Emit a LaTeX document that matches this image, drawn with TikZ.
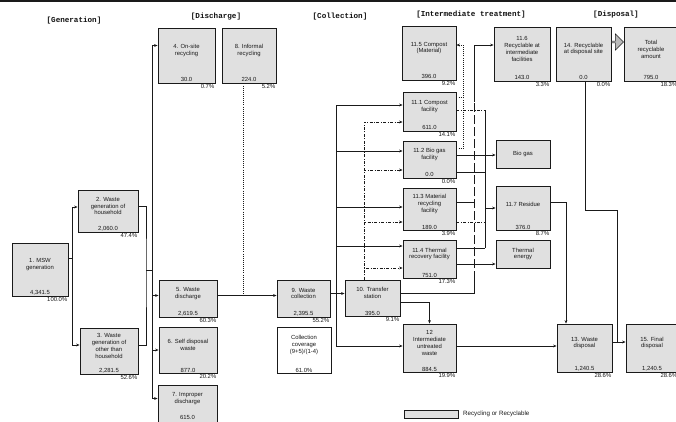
\documentclass[tikz,border=0pt]{standalone}
\usepackage{fontspec}
\setmainfont{Liberation Sans}
\newfontfamily\hdrfont{Liberation Mono}
\usetikzlibrary{arrows.meta,shapes.arrows}
\definecolor{ink}{HTML}{1A1A1A}
\definecolor{boxfill}{HTML}{E0E0E0}
\definecolor{hdrc}{HTML}{101010}

\begin{document}
\begin{tikzpicture}[x=1pt,y=-1pt,font=\fontsize{5.9}{6.9}\selectfont,
  >={Stealth[length=3.4pt,width=2.8pt]},
  blk/.style={draw=ink,line width=0.9pt,fill=boxfill},
  txt/.style={inner sep=1pt,align=center,text=ink},
  hdr/.style={font=\hdrfont\bfseries\fontsize{7.6}{8}\selectfont,text=hdrc},
  flow/.style={draw=ink,line width=0.75pt},
  flowdd/.style={flow,dash pattern=on 3pt off 1.5pt on 0.8pt off 1.5pt},
  flowld/.style={flow,dash pattern=on 9pt off 3pt},
  flowdt/.style={flow,dash pattern=on 0.9pt off 1.2pt}]
  \useasboundingbox (0,0) rectangle (676,421);
  \draw[ink,line width=2pt] (0,1) -- (676,1);
  % stage headers
  \node[hdr] (hgen) at (74,21) {[Generation]};
  \node[hdr] (hdis) at (216,17) {[Discharge]};
  \node[hdr] (hcol) at (340,17) {[Collection]};
  \node[hdr] (hint) at (471,15) {[Intermediate treatment]};
  \node[hdr] (hdsp) at (616,15) {[Disposal]};
  % boxes: name/x/y/w/h/title/amount/share
  \foreach \nm/\bx/\by/\bw/\bh/\btit/\bval/\bpct in {
    n1/40/269.5/56/53/{1. MSW\\generation}/{4,341.5}/{100.0\%},
    n2/108/211/60/42/{2. Waste\\generation of\\household}/{2,060.0}/{47.4\%},
    n3/109/351/58/46/{3. Waste\\generation of\\other than\\household}/{2,281.5}/{52.6\%},
    n4/186.5/55.5/57/55/{4. On-site\\recycling}/{30.0}/{0.7\%},
    n8/249/55.5/54/55/{8. Informal\\recycling}/{224.0}/{5.2\%},
    n5/188/298.5/58/37/{5. Waste\\discharge}/{2,619.5}/{60.3\%},
    n6/188/350/58/46/{6. Self disposal\\waste}/{877.0}/{20.2\%},
    n9/303.5/298.5/53/37/{9. Waste\\collection}/{2,395.5}/{55.2\%},
    n10/372.5/298/55/36/{10. Transfer\\station}/{395.0}/{9.1\%},
    n115/429/53/54/54/{11.5 Compost\\(Material)}/{396.0}/{9.2\%},
    n111/429.5/111.5/53/39/{11.1 Compost\\facility}/{611.0}/{14.1\%},
    n112/429.5/159.5/53/37/{11.2 Bio gas\\facility}/{0.0}/{0.0\%},
    n113/429.5/209/53/42/{11.3 Material\\recycling\\facility}/{189.0}/{3.9\%},
    n114/429.5/259/53/38/{11.4 Thermal\\recovery facility}/{751.0}/{17.3\%},
    n116/522/54/56/54/{11.6\\Recyclable at\\intermediate\\facilities}/{143.0}/{3.3\%},
    n12/429.5/348/53/48/{12\\Intermediate\\untreated\\waste}/{884.5}/{19.9\%},
    n14/583.5/54/55/54/{14. Recyclable\\at disposal site}/{0.0}/{0.0\%},
    ntot/651/54/54/54/{Total\\recyclable\\amount}/{795.0}/{18.3\%},
    n13/584.5/348/55/48/{13. Waste\\disposal}/{1,240.5}/{28.6\%},
    n15/652/348/52/48/{15. Final\\disposal}/{1,240.5}/{28.6\%}}{
    \node[blk,minimum width=\bw pt,minimum height=\bh pt] (\nm) at (\bx,\by) {};
    \node[txt] (\nm-t) at (\bx,\by-5) {\btit};
    \node[txt,anchor=south,inner sep=1.2pt] (\nm-v) at (\nm.south) {\bval};
    \node[txt,anchor=north east] (\nm-p) at (\nm.south east) {\bpct};
  }
  \node[blk,minimum width=59pt,minimum height=45pt] (n7) at (187.5,407.5) {};
  \node[txt] (n7-t) at (187.5,398.5) {7. Improper\\discharge};
  \node[txt] (n7-v) at (187.5,417) {615.0};
  \node[draw=ink,line width=0.9pt,fill=white,minimum width=54pt,minimum height=46pt] (ncov) at (304,350) {};
  \node[txt] (ncov-t) at (304,345) {Collection\\coverage\\(9+5)/(1-4)};
  \node[txt,anchor=south,inner sep=1.2pt] (ncov-v) at (ncov.south) {61.0\%};
  \node[blk,minimum width=54pt,minimum height=28pt] (nbio) at (523,154) {};
  \node[txt] (nbio-t) at (nbio) {Bio gas};
  \node[blk,minimum width=54pt,minimum height=44pt] (n117) at (523,208) {};
  \node[txt] (n117-t) at (523,204) {11.7 Residue};
  \node[txt,anchor=south,inner sep=1.2pt] (n117-v) at (n117.south) {376.0};
  \node[txt,anchor=north east] (n117-p) at (n117.south east) {8.7\%};
  \node[blk,minimum width=54pt,minimum height=28pt] (nthe) at (523,254) {};
  \node[txt] (nthe-t) at (nthe) {Thermal\\energy};
  \node[single arrow,draw=ink,line width=0.5pt,fill=gray!55,minimum height=12pt,
    minimum width=16pt,single arrow head extend=2pt,inner sep=0pt] (arr) at (617,42) {};
  % generation
  \draw[flow,->] ([yshift=11pt]n1.east) -- ++(4,0) coordinate (g1) |- ([yshift=4pt]n2.west);
  \draw[flow,->] (g1) |- ([yshift=6pt]n3.west);
  \draw[flow] ([yshift=5pt]n2.east) -| (146,270) coordinate (g2) |- ([yshift=6pt]n3.east);
  \draw[flow] (g2) -- (152,270) coordinate (g3);
  \draw[flow,->] (g3) |- ([yshift=10pt]n4.west);
  \draw[flow,->] (g3) |- ([yshift=3pt]n5.west);
  \draw[flow,->] (g3) |- (n6.west);
  \draw[flow,->] (g3) |- ([yshift=9pt]n7.west);
  % discharge
  \draw[flow,->] ([yshift=3pt]n5.east) -- ([yshift=3pt]n9.west);
  \coordinate (f1) at ([yshift=3pt]n5.east);
  \coordinate (f2) at ([xshift=-6pt]n8.south);
  \draw[flowdt] (f2) -- (f2 |- f1);
  % collection
  \draw[flow,->] ([yshift=5pt]n9.east) -- ++(6,0) coordinate (c1) -- ([yshift=4.5pt]n10.west);
  \draw[flow,->] (c1) |- ([yshift=6.5pt]n111.west);
  \draw[flow,->] (c1) |- ([yshift=8.5pt]n112.west);
  \draw[flow,->] (c1) |- ([yshift=2pt]n113.west);
  \draw[flow,->] (c1) |- ([yshift=13pt]n114.west);
  \draw[flow,->] (c1) |- ([yshift=2pt]n12.west);
  \coordinate (t1) at ([xshift=-8.5pt]n10.north);
  \draw[flowdd,->] (t1) |- ([yshift=-10.5pt]n111.west);
  \draw[flowdd,->] (t1) |- ([yshift=-10.5pt]n112.west);
  \draw[flowdd,->] (t1) |- ([yshift=-13pt]n113.west);
  \draw[flowdd,->] (t1) |- ([yshift=-9pt]n114.west);
  \draw[flow,->] ([yshift=-4pt]n10.east) -| (n12.north);
  % intermediate treatment
  \draw[flow] ([yshift=5pt]n10.east) -| (474,280) coordinate (r0);
  \draw[flowld] (r0) -- (474,102) coordinate (r1);
  \draw[flow,->] (r1) |- ([yshift=9pt]n116.west);
  \draw[flow] ([yshift=7pt]n113.east) -- ++(18,0);
  \draw[flowdd] ([yshift=1.5pt]n111.east) -- ++(29,0) coordinate (s1);
  \draw[flow] ([yshift=11pt]n114.east) -- ++(29,0) coordinate (s2);
  \draw[flow] (s1) -- (s2);
  \draw[flow] ([yshift=-12.5pt]n112.east) -- ++(29,0);
  \draw[flowdd] ([yshift=-13pt]n113.east) -- ++(29,0);
  \draw[flow,->] (s1 |- n117.west) -- (n117.west);
  \draw[flow,->] ([yshift=4.5pt]n112.east) -- ([yshift=-1pt]nbio.west);
  \draw[flow,->] ([yshift=-5pt]n114.east) -- ([yshift=-10pt]nthe.west);
  \draw[flowdt,->] ([yshift=11.5pt]n112.east) -- ++(7,0) coordinate (d1) |- ([yshift=8pt]n115.east);
  \draw[flowdt] ([yshift=14.5pt]n111.east) -- ++(7,0);
  % disposal
  \draw[flow,->] ([yshift=6pt]n117.east) -| ([xshift=-18.5pt]n13.north);
  \draw[flow,->] ([yshift=2pt]n12.east) -- ([yshift=2pt]n13.west);
  \draw[flow,->] ([yshift=6pt]n13.east) -- ([yshift=6pt]n15.west);
  \draw[flow] ([xshift=1.5pt]n14.south) |- (617,210) -- (617,342);
  % legend
  \node[blk,minimum width=54pt,minimum height=8pt] (leg) at (431,414) {};
  \node[txt,anchor=west,font=\fontsize{6.2}{7}\selectfont] (leg-t) at (462,414) {Recycling or Recyclable};
\end{tikzpicture}
\end{document}
